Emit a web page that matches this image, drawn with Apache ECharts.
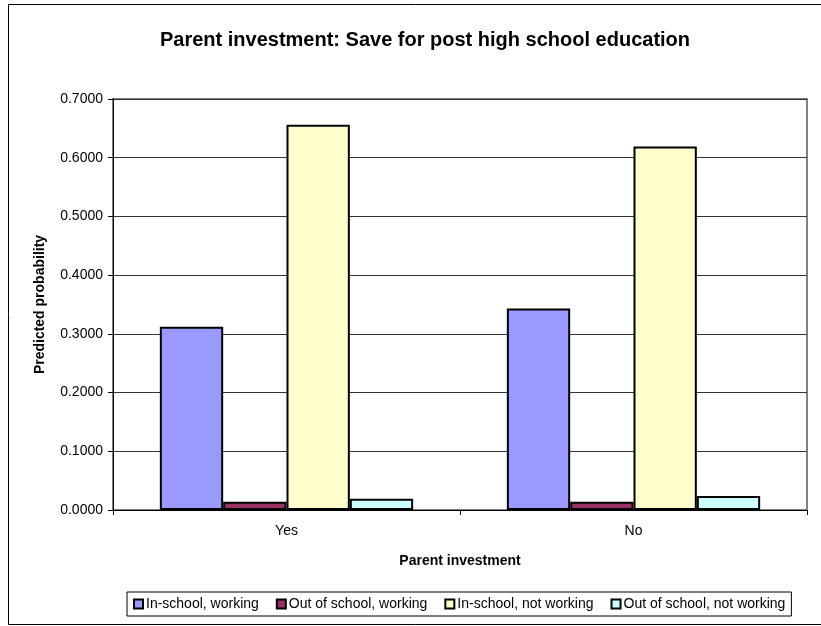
<!DOCTYPE html>
<html>
<head>
<meta charset="utf-8">
<script src="https://cdn.jsdelivr.net/npm/echarts@6/dist/echarts.min.js"></script>
<style>html,body{margin:0;padding:0;background:#fff}#c{width:821px;height:626px}</style>
</head>
<body>
<div id="c"></div>
<script>
const categories = ['Yes', 'No'];
const seriesNames = ['In-school, working', 'Out of school, working', 'In-school, not working', 'Out of school, not working'];
const inSchoolWorking = [0.312, 0.343];
const outSchoolWorking = [0.014, 0.014];
const inSchoolNotWorking = [0.656, 0.619];
const outSchoolNotWorking = [0.019, 0.024];
const yTicks = { min: 0, max: 0.7, interval: 0.1 };
const colors = ['#9999FF', '#993366', '#FFFFCC', '#CCFFFF'];

const values = [inSchoolWorking, outSchoolWorking, inSchoolNotWorking, outSchoolNotWorking];
const font = 'Liberation Sans, Arial, sans-serif';
const chart = echarts.init(document.getElementById('c'));
chart.setOption({
  animation: false,
  textStyle: { fontFamily: font },
  title: {
    text: 'Parent investment: Save for post high school education',
    left: 420, textAlign: 'center', top: 25,
    textStyle: { fontFamily: font, fontSize: 20, fontWeight: 'bold', color: '#000' }
  },
  graphic: [{
    type: 'rect', shape: { x: 8.5, y: 4.5, width: 830, height: 620 },
    style: { fill: 'none', stroke: '#000', lineWidth: 1 }, z: -1
  }],
  grid: { left: 113, right: 14, top: 99, bottom: 116, show: true, borderColor: '#808080', borderWidth: 2, backgroundColor: '#fff' },
  legend: {
    data: seriesNames, left: 127, top: 592, icon: 'rect', itemWidth: 9, itemHeight: 9, itemGap: 17,
    borderColor: '#000', borderWidth: 1, padding: [5, 6, 5, 6],
    textStyle: { fontFamily: font, fontSize: 14, color: '#000', padding: [0, 0, 0, -2] }
  },
  xAxis: {
    type: 'category', data: categories,
    name: 'Parent investment', nameLocation: 'middle', nameGap: 44,
    nameTextStyle: { fontFamily: font, fontSize: 14, fontWeight: 'bold', color: '#000' },
    axisLine: { lineStyle: { color: '#000', width: 1 } },
    axisTick: { show: true, length: 5, lineStyle: { color: '#000' } },
    axisLabel: { fontFamily: font, fontSize: 14, color: '#000', margin: 14 },
    splitLine: { show: false }
  },
  yAxis: {
    type: 'value', min: yTicks.min, max: yTicks.max, interval: yTicks.interval,
    name: 'Predicted probability', nameLocation: 'middle', nameGap: 66, nameRotate: 90,
    nameTextStyle: { fontFamily: font, fontSize: 14, fontWeight: 'bold', color: '#000' },
    axisLine: { show: true, lineStyle: { color: '#000', width: 1 } },
    axisTick: { show: true, length: 5, lineStyle: { color: '#000' } },
    axisLabel: { fontFamily: font, fontSize: 14, color: '#000', margin: 10, formatter: v => v.toFixed(4) },
    splitLine: { show: true, lineStyle: { color: '#333', width: 1 } }
  },
  series: values.map((v, i) => ({
    name: seriesNames[i], type: 'bar', data: v,
    barGap: '0%', barCategoryGap: '27%',
    itemStyle: { color: colors[i], borderColor: '#000', borderWidth: 2 }
  }))
});
</script>
</body>
</html>
